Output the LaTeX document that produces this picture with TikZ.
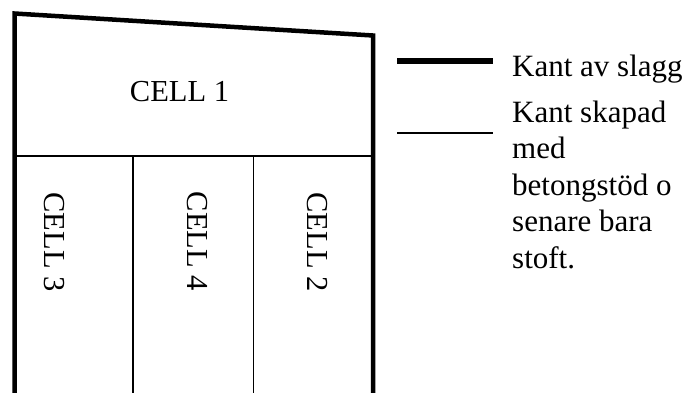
\documentclass[tikz,border=0pt]{standalone}
\usepackage{fontspec}
\setmainfont{Liberation Serif}
\begin{document}
\begin{tikzpicture}[x=1pt,y=1pt,
  slagg/.style={line width=4.5pt,line join=miter},
  stod/.style={line width=1.5pt},
  txt/.style={inner sep=0pt,font=\fontsize{30.5}{36.5}\selectfont},
  legtxt/.style={inner sep=0pt,anchor=base west,font=\fontsize{31}{37}\selectfont},
  celltxt/.style={txt,rotate=-90}]
\useasboundingbox (0,0) rectangle (690,-392);
\begin{scope}
\clip (0,0) rectangle (690,-392);
% outline
\coordinate (bl) at (14.5,-396);
\coordinate (tl) at (14.5,-13.5);
\coordinate (tr) at (373,-35.5);
\coordinate (br) at (373,-396);
\draw[slagg] (bl) -- (tl) -- (tr) -- (br);
% inner thin edges
\coordinate (hl) at (14.5,-156);
\coordinate (hr) at (373,-156);
\draw[stod] (hl) -- (hr);
\coordinate (v1t) at (133,-156);
\coordinate (v1b) at (133,-396);
\coordinate (v2t) at (253.5,-156);
\coordinate (v2b) at (253.5,-396);
\draw[stod] (v1t) -- (v1b);
\draw[stod] (v2t) -- (v2b);
\end{scope}
% cell labels
\node[txt,anchor=base] (c1) at (179.5,-101) {CELL 1};
\node[celltxt] (c3) at (54,-242) {CELL 3};
\node[celltxt] (c4) at (197.5,-241.5) {CELL 4};
\node[celltxt] (c2) at (317,-242) {CELL 2};
% legend
\coordinate (la1) at (397,-61);
\coordinate (la2) at (493,-61);
\draw[line width=5.5pt] (la1) -- (la2);
\coordinate (lb1) at (397,-133);
\coordinate (lb2) at (493,-133);
\draw[stod] (lb1) -- (lb2);
\node[legtxt] (l1) at (512,-76.5) {Kant av slagg};
\node[legtxt] (l2) at (512,-122) {Kant skapad};
\node[legtxt] (l3) at (512,-158.5) {med};
\node[legtxt] (l4) at (512,-195) {betongstöd o};
\node[legtxt] (l5) at (512,-231.5) {senare bara};
\node[legtxt] (l6) at (512,-268) {stoft.};
\end{tikzpicture}
\end{document}
